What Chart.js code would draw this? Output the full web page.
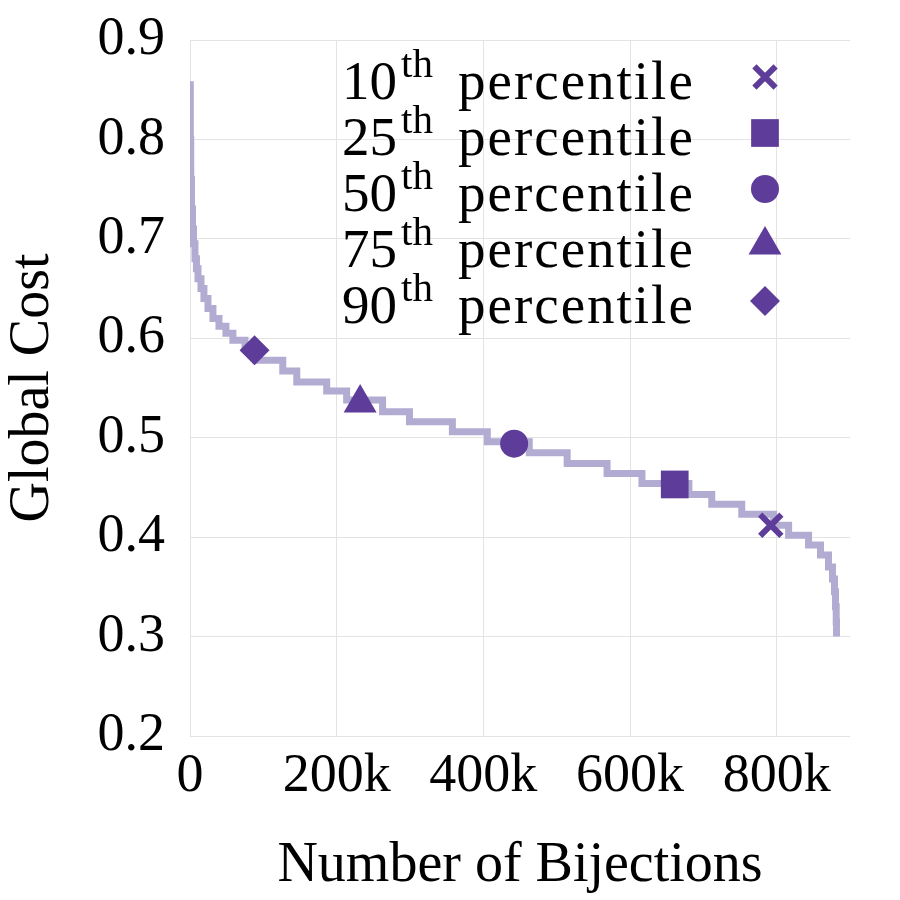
<!DOCTYPE html>
<html>
<head>
<meta charset="utf-8">
<script src="https://cdn.jsdelivr.net/npm/chart.js@4/dist/chart.umd.min.js"></script>
<style>
  body { margin: 0; background: #fff; }
  #wrap { width: 900px; height: 900px; }
</style>
</head>
<body>
<div id="wrap"><canvas id="costChart" width="900" height="900"></canvas></div>
<script>
// Sorted global cost per bijection (step curve)
const bijections = [0, 400, 1000, 2000, 3400, 4800, 6800, 8800, 10900, 15000, 19000, 24500, 31300, 39500, 49000, 58500, 75000, 90000, 126500, 145600, 186400, 213600, 262600, 299300, 357800, 405400, 462600, 514300, 568700, 616300, 680300, 711500, 752400, 795900, 816300, 843500, 859800, 870700, 876100, 878900, 880200, 881200, 881600];
const globalCost = [0.855, 0.80, 0.76, 0.73, 0.71, 0.695, 0.68, 0.67, 0.66, 0.65, 0.64, 0.63, 0.62, 0.612, 0.605, 0.598, 0.591, 0.578, 0.567, 0.556, 0.547, 0.538, 0.526, 0.516, 0.506, 0.496, 0.485, 0.474, 0.464, 0.454, 0.443, 0.433, 0.423, 0.412, 0.402, 0.392, 0.382, 0.370, 0.358, 0.345, 0.33, 0.315, 0.300];

// Percentile markers
const percentileLabels = ["10", "25", "50", "75", "90"];
const percentileX = [792000, 661000, 442000, 232000, 88000];
const percentileY = [0.412, 0.453, 0.494, 0.535, 0.588];
const percentileStyles = ["crossRot", "rect", "circle", "triangle", "rectRot"];
const percentileRadius = [15, 19.6, 14, 19, 15];

// Axis ticks
const xTicks = [0, 200000, 400000, 600000, 800000];
const yTicks = [0.2, 0.3, 0.4, 0.5, 0.6, 0.7, 0.8, 0.9];

const FONT = "'Liberation Serif', 'DejaVu Serif', serif";
const markerColor = "#5e3c99";
const lineColor = "#b2abd2";

const percentileDatasets = percentileLabels.map((p, i) => ({
  label: p + "th percentile",
  data: [{ x: percentileX[i], y: percentileY[i] }],
  pointStyle: percentileStyles[i],
  pointRadius: percentileRadius[i],
  pointHoverRadius: percentileRadius[i],
  backgroundColor: markerColor,
  borderColor: markerColor,
  borderWidth: percentileStyles[i] === "crossRot" ? 6 : 0,
  showLine: false,
  order: 0,
}));

// legend drawn inside the plot: text first, then the marker
const percentileLegend = {
  id: "percentileLegend",
  afterDraw(chart) {
    const ctx = chart.ctx;
    const area = chart.chartArea;
    const textX = area.left + 152;
    const wordX = area.left + 268;
    const markX = area.left + 575;
    ctx.save();
    ctx.textBaseline = "alphabetic";
    ctx.textAlign = "left";
    percentileLabels.forEach((p, i) => {
      const rowY = area.top + 37 + i * 56;
      const base = rowY + 22;
      ctx.fillStyle = "#000";
      ctx.font = "55px " + FONT;
      ctx.fillText(p, textX, base);
      const numW = ctx.measureText(p).width;
      ctx.font = "41px " + FONT;
      ctx.fillText("th", textX + numW + 4, base - 22);
      ctx.font = "55px " + FONT;
      ctx.letterSpacing = "2px";
      ctx.fillText("percentile", wordX, base);
      ctx.letterSpacing = "0px";

      const ds = chart.data.datasets[i];
      ctx.fillStyle = markerColor;
      ctx.strokeStyle = markerColor;
      ctx.lineWidth = ds.borderWidth;
      Chart.helpers.drawPoint(ctx, {
        pointStyle: ds.pointStyle,
        radius: ds.pointRadius,
        rotation: 0,
        borderWidth: ds.borderWidth,
      }, markX, rowY);
    });
    ctx.restore();
  },
};

const ctx = document.getElementById("costChart").getContext("2d");
new Chart(ctx, {
  type: "scatter",
  data: {
    datasets: [
      ...percentileDatasets,
      {
        label: "Global Cost",
        data: bijections.map((b, i) => ({ x: b, y: globalCost[i] })),
        showLine: true,
        stepped: true,
        borderColor: lineColor,
        borderWidth: 7,
        pointRadius: 0,
        fill: false,
        order: 1,
      },
    ],
  },
  options: {
    responsive: false,
    animation: false,
    layout: { padding: { top: 40, right: 50, left: 0, bottom: 0 } },
    plugins: {
      legend: { display: false },
      tooltip: { enabled: false },
    },
    scales: {
      x: {
        type: "linear",
        min: 0,
        max: 900000,
        afterFit: (scale) => { scale.height = 164; },
        afterBuildTicks: (scale) => { scale.ticks = xTicks.map((v) => ({ value: v })); },
        border: { display: false },
        grid: { color: "#e3e3e3", lineWidth: 1, drawTicks: false },
        ticks: {
          padding: 8,
          color: "#000",
          font: { family: FONT, size: 54 },
          callback: (v) => (v === 0 ? "0" : v / 1000 + "k"),
        },
        title: {
          display: true,
          text: "Number of Bijections",
          color: "#000",
          font: { family: FONT, size: 56 },
          padding: { top: 0, bottom: 0 },
        },
      },
      y: {
        min: 0.2,
        max: 0.9,
        afterFit: (scale) => {
          scale.width = 190;
          scale.paddingTop = 0;
          scale.paddingBottom = 0;
        },
        afterBuildTicks: (scale) => { scale.ticks = yTicks.map((v) => ({ value: v })); },
        border: { display: false },
        grid: { color: "#e3e3e3", lineWidth: 1, drawTicks: false },
        ticks: {
          padding: 25,
          color: "#000",
          font: { family: FONT, size: 54 },
          callback: (v) => Number(v).toFixed(1),
        },
        title: {
          display: true,
          text: "Global Cost",
          color: "#000",
          font: { family: FONT, size: 56 },
          padding: { top: 0, bottom: 0 },
        },
      },
    },
  },
  plugins: [percentileLegend],
});
</script>
</body>
</html>
